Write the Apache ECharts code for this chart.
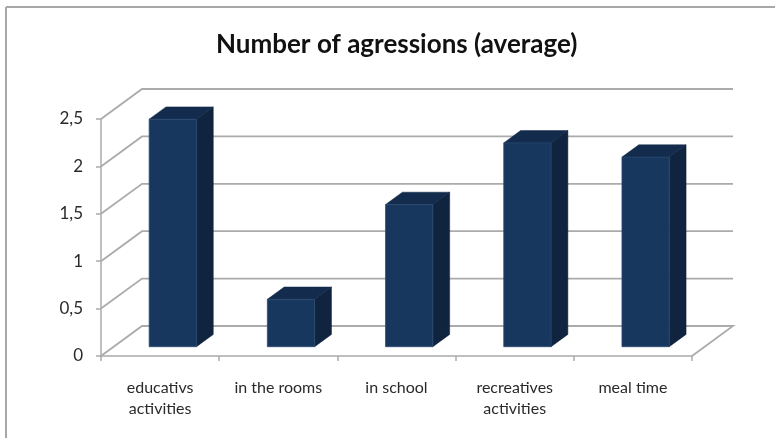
<!DOCTYPE html>
<html>
<head>
<meta charset="utf-8">
<script src="https://cdn.jsdelivr.net/npm/echarts@6/dist/echarts.min.js"></script>
<style>html,body{margin:0;padding:0;background:#fff}#c{width:775px;height:438px}</style>
</head>
<body>
<div id="c"></div>
<script>
var categories = ['educativs\nactivities', 'in the rooms', 'in school', 'recreatives\nactivities', 'meal time'];
var values = [2.4, 0.5, 1.5, 2.15, 2.0];
var yTicks = [0, 0.5, 1, 1.5, 2, 2.5];
var yTickLabels = ['0', '0,5', '1', '1,5', '2', '2,5'];
var titleText = 'Number of agressions (average)';

// 3D style constants (perspective offset of back wall)
var DX = 41, DY = -30;
var F1 = 0.31, F2 = 0.72, BARW = 0.4;
var gridColor = '#ababab';

var chart = echarts.init(document.getElementById('c'));
chart.setOption({
  backgroundColor: '#ffffff',
  animation: false,
  title: {
    text: titleText, left: 216, top: 32, padding: 0,
    textStyle: { fontFamily: 'Lato', fontWeight: 'bold', fontSize: 26, color: '#111' }
  },
  graphic: [
    { type: 'line', shape: { x1: 6, y1: 7, x2: 775, y2: 7 }, style: { stroke: '#a8a8a8', lineWidth: 2 } },
    { type: 'line', shape: { x1: 6, y1: 7, x2: 6, y2: 438 }, style: { stroke: '#a8a8a8', lineWidth: 2 } }
  ],
  grid: { left: 101, right: 83, top: 119, bottom: 82 },
  xAxis: {
    type: 'category', data: categories,
    axisLine: { lineStyle: { color: gridColor, width: 1.5 } },
    axisTick: { show: true, length: 5, lineStyle: { color: gridColor, width: 1.5 } },
    axisLabel: { margin: 21, fontFamily: 'Lato', fontSize: 16, color: '#2a2a2a', lineHeight: 21 },
    splitLine: { show: false }
  },
  yAxis: {
    type: 'value', min: 0, max: 2.5, interval: 0.5,
    axisLine: { show: true, lineStyle: { color: gridColor, width: 1.5 } },
    axisTick: { show: true, length: 5, lineStyle: { color: gridColor, width: 1.5 } },
    axisLabel: {
      margin: 18, fontFamily: 'Lato', fontSize: 17, color: '#2a2a2a',
      formatter: function (v) { var i = yTicks.indexOf(v); return i >= 0 ? yTickLabels[i] : String(v); }
    },
    splitLine: { show: false }
  },
  series: [
    {
      type: 'custom', silent: true, z: 1,
      data: yTicks.map(function (v) { return [0, v]; }),
      encode: { x: 0, y: 1 },
      renderItem: function (params, api) {
        var cs = params.coordSys;
        var y = api.coord([0, api.value(1)])[1];
        var x0 = cs.x, x1 = cs.x + cs.width;
        var pts = [[x0, y], [x0 + DX, y + DY], [x1 + DX, y + DY]];
        if (api.value(1) === 0) pts.push([x1, y]);
        return { type: 'polyline', shape: { points: pts }, style: { stroke: gridColor, lineWidth: 1.8, fill: null } };
      }
    },
    {
      type: 'custom', z: 2,
      data: values.map(function (v, i) { return [i, v]; }),
      encode: { x: 0, y: 1 },
      renderItem: function (params, api) {
        var top = api.coord([api.value(0), api.value(1)]);
        var base = api.coord([api.value(0), 0]);
        var band = api.size([1, 0])[0];
        var hw = band * BARW / 2;
        var fx = F1 * DX, fy = F1 * DY, bx = F2 * DX, by = F2 * DY;
        var l = top[0] - hw + fx, r = top[0] + hw + fx;
        var t = top[1] + fy, b = base[1] + fy;
        var ox = bx - fx, oy = by - fy;
        return {
          type: 'group',
          children: [
            { type: 'polygon', shape: { points: [[r, t], [r + ox, t + oy], [r + ox, b + oy], [r, b]] }, style: { fill: '#10243f', stroke: '#0c1c33', lineWidth: 0.5 } },
            { type: 'polygon', shape: { points: [[l, t], [l + ox, t + oy], [r + ox, t + oy], [r, t]] }, style: { fill: '#132c4e', stroke: '#0f2442', lineWidth: 0.5 } },
            { type: 'rect', shape: { x: l, y: t, width: r - l, height: b - t }, style: { fill: '#17375e', stroke: '#2a4a72', lineWidth: 0.8 } }
          ]
        };
      }
    }
  ]
});
</script>
</body>
</html>
